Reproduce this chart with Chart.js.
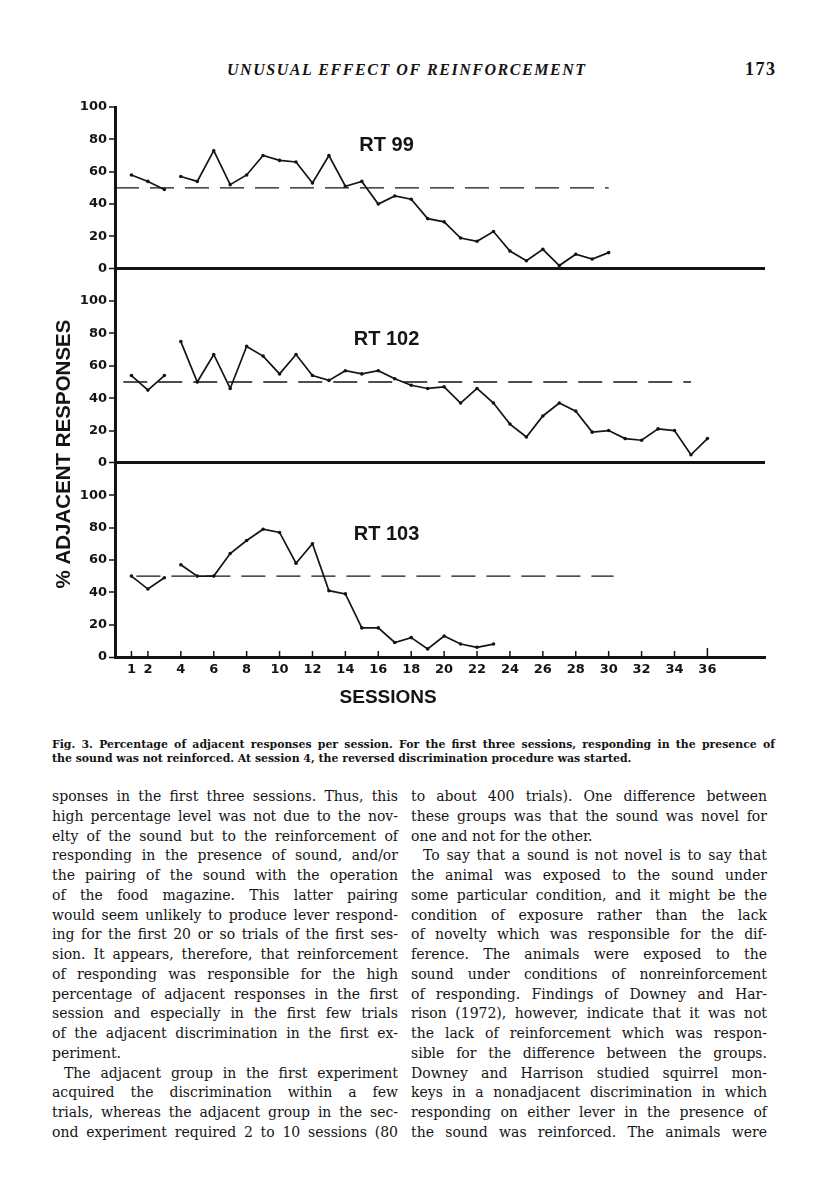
<!DOCTYPE html>
<html><head><meta charset="utf-8">
<script src="https://cdn.jsdelivr.net/npm/chart.js@4.4.1/dist/chart.umd.min.js"></script>
<style>
html,body{margin:0;padding:0;background:#fff;}
body{width:816px;height:1200px;position:relative;overflow:hidden;font-family:"DejaVu Serif",serif;color:#141414;}
#hdr{position:absolute;left:227px;top:60px;font-family:"Liberation Serif",serif;font-style:italic;font-weight:bold;font-size:16px;letter-spacing:1.55px;line-height:20px;}
#pg{position:absolute;left:745px;top:59px;font-family:"Liberation Serif",serif;font-weight:bold;font-size:18px;letter-spacing:1.5px;line-height:20px;}
#chartBox{position:absolute;left:0;top:90px;width:816px;height:620px;}
#cap{position:absolute;left:52px;top:738px;width:723px;font-size:10.9px;line-height:14px;font-weight:bold;}
.col{position:absolute;top:787px;font-size:14px;line-height:19.76px;}
.j{text-align:justify;text-align-last:justify;white-space:nowrap;position:relative;}
.l{text-align:left;white-space:nowrap;position:relative;}
.ind{padding-left:12px;}
</style></head>
<body>
<div id="hdr">UNUSUAL EFFECT OF REINFORCEMENT</div>
<div id="pg">173</div>
<div id="chartBox"><canvas id="c" width="816" height="620"></canvas></div>
<div id="cap">
<div class="j">Fig. 3. Percentage of adjacent responses per session. For the first three sessions, responding in the presence of</div>
<div class="l">the sound was not reinforced. At session 4, the reversed discrimination procedure was started.</div>
</div>
<div class="col" style="left:52px;width:346px;">
<div class="j">sponses in the first three sessions. Thus, this</div>
<div class="j">high percentage level was not due to the nov-</div>
<div class="j">elty of the sound but to the reinforcement of</div>
<div class="j">responding in the presence of sound, and/or</div>
<div class="j">the pairing of the sound with the operation</div>
<div class="j">of the food magazine. This latter pairing</div>
<div class="j">would seem unlikely to produce lever respond-</div>
<div class="j">ing for the first 20 or so trials of the first ses-</div>
<div class="j">sion. It appears, therefore, that reinforcement</div>
<div class="j">of responding was responsible for the high</div>
<div class="j">percentage of adjacent responses in the first</div>
<div class="j">session and especially in the first few trials</div>
<div class="j">of the adjacent discrimination in the first ex-</div>
<div class="l">periment.</div>
<div class="j ind">The adjacent group in the first experiment</div>
<div class="j">acquired the discrimination within a few</div>
<div class="j">trials, whereas the adjacent group in the sec-</div>
<div class="j">ond experiment required 2 to 10 sessions (80</div>
</div>
<div class="col" style="left:411px;width:356px;">
<div class="j">to about 400 trials). One difference between</div>
<div class="j">these groups was that the sound was novel for</div>
<div class="l">one and not for the other.</div>
<div class="j ind">To say that a sound is not novel is to say that</div>
<div class="j">the animal was exposed to the sound under</div>
<div class="j">some particular condition, and it might be the</div>
<div class="j">condition of exposure rather than the lack</div>
<div class="j">of novelty which was responsible for the dif-</div>
<div class="j">ference. The animals were exposed to the</div>
<div class="j">sound under conditions of nonreinforcement</div>
<div class="j">of responding. Findings of Downey and Har-</div>
<div class="j">rison (1972), however, indicate that it was not</div>
<div class="j">the lack of reinforcement which was respon-</div>
<div class="j">sible for the difference between the groups.</div>
<div class="j">Downey and Harrison studied squirrel mon-</div>
<div class="j">keys in a nonadjacent discrimination in which</div>
<div class="j">responding on either lever in the presence of</div>
<div class="j">the sound was reinforced. The animals were</div>
</div>
<script>
// ---- data ----
const sessionTicks = [1,2,4,6,8,10,12,14,16,18,20,22,24,26,28,30,32,34,36];
const yTicks = [0,20,40,60,80,100];
const panelNames = ["RT 99","RT 102","RT 103"];
const rt99  = [58,54,49,57,54,73,52,58,70,67,66,53,70,51,54,40,45,43,31,29,19,17,23,11,5,12,2,9,6,10];
const rt102 = [54,45,54,75,50,67,46,72,66,55,67,54,51,57,55,57,52,48,46,47,37,46,37,24,16,29,37,32,19,20,15,14,21,20,5,15];
const rt103 = [50,42,49,57,50,50,64,72,79,77,58,70,41,39,18,18,9,12,5,13,8,6,8];
const chanceLevel = 50;
const chanceSpan99  = [0, 30];
const chanceSpan102 = [0.5, 35];
const chanceSpan103 = [1.3, 30.3];
const reversalSession = 4; // line broken before session 4

// keep justified text lines inside their column
document.querySelectorAll('.j,.l').forEach(el => {
  const avail = el.clientWidth - (el.classList.contains('ind') ? 12 : 0);
  const m = document.createElement('span');
  m.style.cssText = 'position:absolute;visibility:hidden;white-space:nowrap;left:0;top:0;';
  m.textContent = el.textContent;
  el.appendChild(m);
  const nat = m.getBoundingClientRect().width;
  el.removeChild(m);
  if (nat > avail) el.style.letterSpacing = ((avail - nat) / el.textContent.length - 0.02) + 'px';
});

function toPoints(vals){
  const pts = [];
  vals.forEach((v,i)=>{
    const s = i+1;
    if (s === reversalSession) pts.push({x: s-0.5, y: null});
    pts.push({x: s, y: v});
  });
  return pts;
}
function refLine(span){ return span.map(s=>({x:s, y:chanceLevel})); }

const INK = '#141414';
function lineDs(vals, axis){
  return {data: toPoints(vals), yAxisID: axis, borderColor: INK, backgroundColor: INK,
    borderWidth: 1.7, pointRadius: 1.8, pointBorderWidth: 0, pointBackgroundColor: INK,
    tension: 0, spanGaps: false, fill: false};
}
function dashDs(span, axis){
  return {data: refLine(span), yAxisID: axis, borderColor: INK, borderWidth: 1.4,
    borderDash: [24, 11], pointRadius: 0, fill: false, tension: 0};
}
const tickFont = {family: 'DejaVu Sans', weight: 'bold', size: 13};
function yScale(max, weight){
  return {
    type: 'linear', position: 'left', stack: 'panels', stackWeight: weight,
    min: 0, max: max,
    afterBuildTicks: s => { s.ticks = yTicks.map(v => ({value: v})); },
    afterFit: s => { s.width = 115; },
    ticks: {font: tickFont, color: INK, padding: 2, autoSkip: false},
    grid: {color: INK, lineWidth: c => (c.tick && c.tick.value === 0) ? 3 : 0,
      tickLength: 6, tickWidth: 1.5, tickColor: INK, drawOnChartArea: true, drawTicks: true},
    border: {display: true, width: 3, color: INK}
  };
}

const extras = {
  id: 'extras',
  afterDraw(chart){
    const ctx = chart.ctx, xs = chart.scales.x;
    const base = chart.chartArea.bottom;
    ctx.save();
    ctx.strokeStyle = INK; ctx.lineWidth = 1.5;
    sessionTicks.forEach(v => {
      const px = xs.getPixelForValue(v);
      ctx.beginPath(); ctx.moveTo(px, base); ctx.lineTo(px, base - (v === 36 ? 9 : 6)); ctx.stroke();
    });
    ctx.fillStyle = INK;
    ctx.textAlign = 'center'; ctx.textBaseline = 'middle';
    ctx.font = 'bold 20px "Liberation Sans"';
    ['yTop','yMid','yBot'].forEach((id, i) => {
      ctx.fillText(panelNames[i], xs.getPixelForValue(16.5), chart.scales[id].getPixelForValue(76));
    });
    ctx.font = 'bold 19px "Liberation Sans"';
    ctx.fillText('SESSIONS', xs.getPixelForValue(16.6), base + 41);
    ctx.font = 'bold 20.5px "Liberation Sans"';
    ctx.translate(64.5, 364);
    ctx.rotate(-Math.PI/2);
    ctx.fillText('% ADJACENT RESPONSES', 0, 0);
    ctx.restore();
  }
};

new Chart(document.getElementById('c'), {
  type: 'line',
  data: {datasets: [
    lineDs(rt99, 'yTop'), dashDs(chanceSpan99, 'yTop'),
    lineDs(rt102, 'yMid'), dashDs(chanceSpan102, 'yMid'),
    lineDs(rt103, 'yBot'), dashDs(chanceSpan103, 'yBot')
  ]},
  options: {
    responsive: false, animation: false, devicePixelRatio: 1,
    layout: {padding: {left: 0, right: 51, top: 17, bottom: 0}},
    plugins: {legend: {display: false}, tooltip: {enabled: false}},
    scales: {
      x: {type: 'linear', min: 0, max: 39.5,
        afterBuildTicks: s => { s.ticks = sessionTicks.map(v => ({value: v})); },
        afterFit: s => { s.height = 53; },
        ticks: {font: tickFont, color: INK, padding: -3, autoSkip: false, maxRotation: 0},
        grid: {display: false},
        border: {display: true, width: 3, color: INK},
        title: {display: false}
      },
      yBot: yScale(120, 120),
      yMid: yScale(120, 120),
      yTop: yScale(100, 100)
    }
  },
  plugins: [extras]
});
</script>
</body></html>
